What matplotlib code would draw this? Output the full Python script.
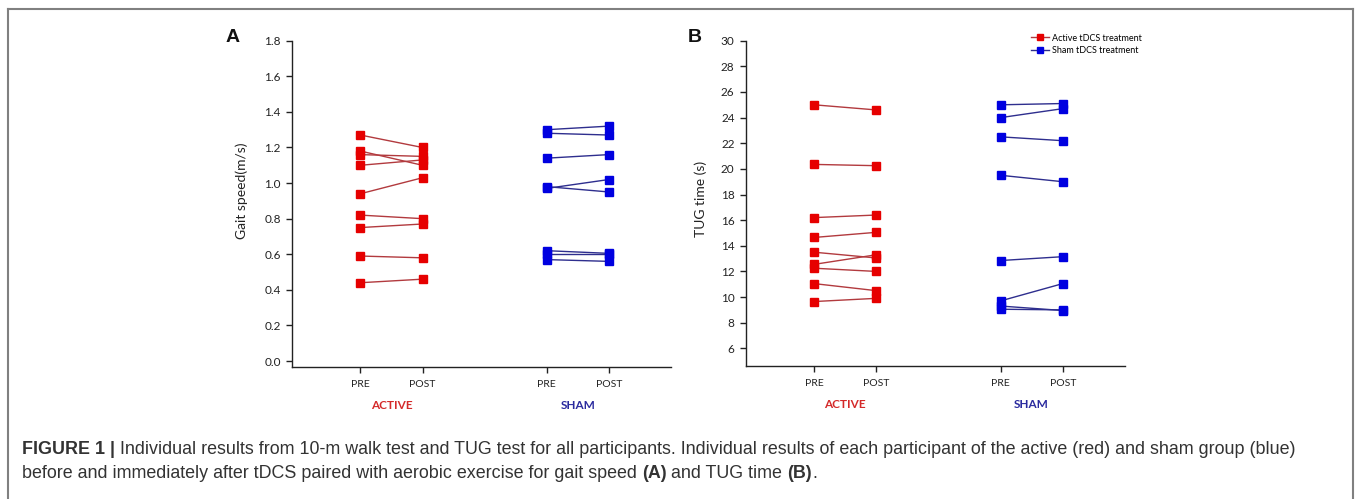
import numpy as np
import matplotlib.pyplot as plt
from matplotlib.lines import Line2D

# values, one entry per participant
gait_active_pre = [1.27, 1.18, 1.16, 1.10, 0.94, 0.82, 0.75, 0.59, 0.44]
gait_active_post = [1.20, 1.10, 1.15, 1.13, 1.03, 0.80, 0.77, 0.58, 0.46]
gait_sham_pre = [1.30, 1.28, 1.14, 0.97, 0.98, 0.62, 0.60, 0.57]
gait_sham_post = [1.32, 1.27, 1.16, 1.02, 0.95, 0.605, 0.60, 0.56]

tug_active_pre = [25.0, 20.35, 16.2, 14.65, 13.5, 12.55, 12.25, 11.05, 9.65]
tug_active_post = [24.6, 20.25, 16.4, 15.05, 13.05, 13.3, 12.0, 10.5, 9.9]
tug_sham_pre = [25.0, 24.0, 22.5, 19.5, 12.85, 9.7, 9.3, 9.05]
tug_sham_post = [25.1, 24.7, 22.2, 19.0, 13.15, 11.05, 8.95, 9.0]

tick_pos = [1, 2, 4, 5]
tick_labels = ['PRE', 'POST', 'PRE', 'POST']
groups = ['ACTIVE', 'SHAM']
legend_labels = ['Active tDCS treatment', 'Sham tDCS treatment']

RED_M, RED_L = '#e60000', '#b23a3e'
BLUE_M, BLUE_L = '#0000e0', '#2e2e8e'
GROUP_COL = ['#d42a2a', '#2a2a9e']

plt.rcParams['font.family'] = ['Lato', 'DejaVu Sans']

fig = plt.figure(figsize=(13.57, 4.99), dpi=100)


def draw_pairs(ax, pre, post, x0, mcol, lcol):
    lines = []
    for a, b in zip(pre, post):
        ln, = ax.plot([x0, x0 + 1], [a, b], color=lcol, lw=1.0,
                      marker='s', ms=6, mfc=mcol, mec=mcol, zorder=3)
        lines.append(ln)
    return lines


def style_axis(ax, ylim, yticks, ylabel, labelx, labely):
    ax.set_xlim(-0.1, 6.0)
    ax.set_ylim(*ylim)
    ax.set_yticks(yticks)
    ax.set_xticks(tick_pos)
    ax.set_xticklabels(tick_labels)
    for s in ['top', 'right']:
        ax.spines[s].set_visible(False)
    for s in ['left', 'bottom']:
        ax.spines[s].set_linewidth(1.0)
        ax.spines[s].set_color('#222222')
    ax.tick_params(axis='y', length=4, width=1, labelsize=8.5, pad=4, colors='#222222')
    ax.tick_params(axis='x', length=4.5, width=1, labelsize=7.5, pad=5, colors='#222222')
    ax.set_ylabel(ylabel, fontsize=10, color='#222222')
    ax.yaxis.set_label_coords(labelx, labely)
    for i, g in enumerate(groups):
        ax.text(1.5 + 3 * i, -0.118, g, transform=ax.get_xaxis_transform(),
                ha='center', va='center', fontsize=8.5, fontweight='bold',
                color=GROUP_COL[i])


# Panel A: gait speed
axA = fig.add_axes([0.2152, 0.2651, 0.2793, 0.6533])
draw_pairs(axA, gait_active_pre, gait_active_post, 1, RED_M, RED_L)
draw_pairs(axA, gait_sham_pre, gait_sham_post, 4, BLUE_M, BLUE_L)
style_axis(axA, (-0.032, 1.8), np.arange(0, 1.81, 0.2), 'Gait speed(m/s)', -0.116, 0.54)
axA.set_yticklabels(['%.1f' % v for v in np.arange(0, 1.81, 0.2)])

# Panel B: TUG time
axB = fig.add_axes([0.5495, 0.2665, 0.2795, 0.6519])
la = draw_pairs(axB, tug_active_pre, tug_active_post, 1, RED_M, RED_L)
lb = draw_pairs(axB, tug_sham_pre, tug_sham_post, 4, BLUE_M, BLUE_L)
style_axis(axB, (4.62, 30), np.arange(6, 31, 2), 'TUG time (s)', -0.102, 0.515)

axB.legend([la[0], lb[0]], legend_labels, loc='upper right',
           bbox_to_anchor=(1.055, 1.033), frameon=False, fontsize=6.5,
           handlelength=2.0, handletextpad=0.4, labelspacing=0.35,
           markerscale=0.8, borderaxespad=0)

panel = dict(fontsize=14, fontweight='bold', ha='center', va='center',
             color='#111111', family=['Liberation Sans', 'DejaVu Sans'])
fig.text(233 / 1357, 1 - 37 / 499, 'A', **panel)
fig.text(695 / 1357, 1 - 37 / 499, 'B', **panel)

# frame round the figure (bottom edge is cut off in the original)
frame = dict(color='#808080', lw=1.5, transform=fig.transFigure)
fig.add_artist(Line2D([8 / 1357, 8 / 1357], [0, 1 - 9 / 499], **frame))
fig.add_artist(Line2D([8 / 1357, 1353 / 1357], [1 - 9 / 499, 1 - 9 / 499], **frame))
fig.add_artist(Line2D([1353 / 1357, 1353 / 1357], [0, 1 - 9 / 499], **frame))

# caption with bold pieces chained after each other
cap = dict(fontsize=12.9, color='#333333', family=['Liberation Sans', 'DejaVu Sans'])
t = fig.text(22 / 1357, 1 - 449 / 499, 'FIGURE 1 |', fontweight='bold', va='center', **cap)
axB.annotate(' Individual results from 10-m walk test and TUG test for all participants. '
             'Individual results of each participant of the active (red) and sham group (blue)',
             xy=(1, 0), xycoords=t, va='bottom', annotation_clip=False, **cap)
t2 = fig.text(22 / 1357, 1 - 474 / 499,
              'before and immediately after tDCS paired with aerobic exercise for gait speed ',
              va='center', **cap)
t3 = axB.annotate('(A)', xy=(1, 0), xycoords=t2, va='bottom', fontweight='bold',
                  annotation_clip=False, **cap)
t4 = axB.annotate(' and TUG time ', xy=(1, 0), xycoords=t3, va='bottom',
                  annotation_clip=False, **cap)
t5 = axB.annotate('(B)', xy=(1, 0), xycoords=t4, va='bottom', fontweight='bold',
                  annotation_clip=False, **cap)
axB.annotate('.', xy=(1, 0), xycoords=t5, va='bottom', annotation_clip=False, **cap)

fig.savefig('out.png', dpi=100, facecolor='white')
